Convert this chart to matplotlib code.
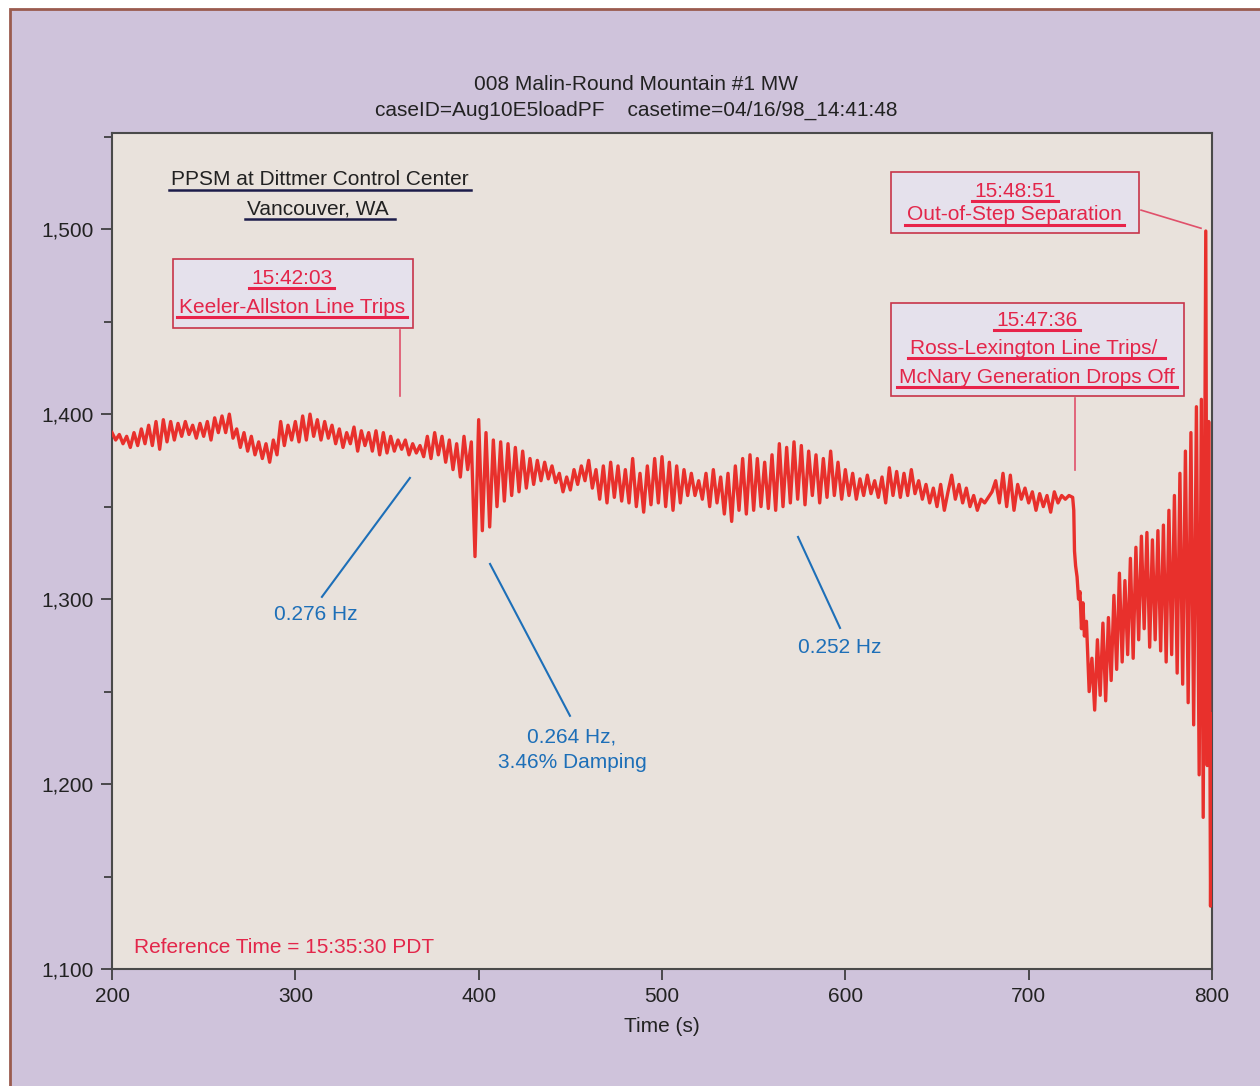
import numpy as np
import matplotlib.pyplot as plt
from matplotlib.lines import Line2D
from matplotlib.patches import Rectangle
from matplotlib.ticker import MultipleLocator, StrMethodFormatter
from matplotlib.transforms import IdentityTransform

plt.rcParams['font.family'] = ['Liberation Sans', 'DejaVu Sans']

# Malin-Round Mountain #1 MW, one reading every 2 s from 200 s to 722 s
t_pre = np.arange(200, 724, 2)
mw_pre = [
    1390, 1386, 1389, 1384, 1388, 1382, 1390, 1383, 1392, 1384,  # 200
    1394, 1383, 1396, 1381, 1397, 1385, 1396, 1386, 1395, 1388,  # 220
    1396, 1389, 1394, 1387, 1395, 1388, 1396, 1386, 1398, 1390,  # 240
    1399, 1390, 1400, 1387, 1392, 1382, 1390, 1380, 1388, 1378,  # 260
    1385, 1376, 1384, 1374, 1386, 1378, 1396, 1383, 1394, 1386,  # 280
    1396, 1385, 1399, 1386, 1400, 1388, 1397, 1386, 1396, 1387,  # 300
    1394, 1384, 1392, 1382, 1390, 1384, 1393, 1380, 1391, 1383,  # 320
    1390, 1380, 1391, 1378, 1390, 1379, 1388, 1380, 1386, 1381,  # 340
    1386, 1378, 1384, 1379, 1383, 1377, 1388, 1376, 1390, 1378,  # 360
    1388, 1374, 1386, 1370, 1384, 1366, 1388, 1370, 1385, 1323,  # 380
    1397, 1337, 1390, 1339, 1386, 1350, 1385, 1353, 1384, 1356,  # 400
    1382, 1358, 1380, 1360, 1376, 1362, 1375, 1364, 1374, 1365,  # 420
    1372, 1363, 1368, 1358, 1366, 1359, 1370, 1362, 1372, 1364,  # 440
    1375, 1360, 1370, 1354, 1372, 1352, 1374, 1355, 1372, 1353,  # 460
    1370, 1352, 1376, 1350, 1368, 1347, 1372, 1351, 1376, 1352,  # 480
    1377, 1350, 1374, 1348, 1372, 1352, 1370, 1356, 1368, 1356,  # 500
    1364, 1354, 1368, 1350, 1370, 1352, 1366, 1346, 1368, 1342,  # 520
    1372, 1348, 1376, 1346, 1378, 1348, 1376, 1350, 1374, 1349,  # 540
    1378, 1348, 1384, 1350, 1382, 1352, 1385, 1354, 1383, 1351,  # 560
    1380, 1356, 1378, 1352, 1376, 1355, 1380, 1356, 1374, 1354,  # 580
    1370, 1356, 1368, 1354, 1365, 1356, 1367, 1357, 1364, 1355,  # 600
    1366, 1352, 1371, 1356, 1369, 1355, 1368, 1356, 1370, 1357,  # 620
    1364, 1354, 1362, 1352, 1360, 1350, 1362, 1348, 1358, 1367,  # 640
    1354, 1362, 1352, 1360, 1350, 1356, 1348, 1354, 1352, 1355,  # 660
    1358, 1364, 1352, 1368, 1350, 1367, 1348, 1362, 1354, 1360,  # 680
    1352, 1358, 1348, 1357, 1350, 1356, 1347, 1358, 1352, 1356,  # 700
    1354, 1356,                                                  # 720
]

# after the Ross-Lexington trip (peaks and troughs)
t_post = [724.0, 724.6, 725.0, 725.6, 726.4, 727.2, 728.0, 728.8, 729.6, 730.4,
          731.5, 733.0, 734.5, 736.0, 737.5, 739.0, 740.5, 742.0, 743.5, 745.0,
          746.5, 748.0, 749.5, 751.0, 752.5, 754.0, 755.5, 757.0, 758.5, 760.0,
          761.5, 763.0, 764.5, 766.0, 767.5, 769.0, 770.5, 772.0, 773.5, 775.0,
          776.5, 778.0, 779.5, 781.0, 782.5, 784.0, 785.5, 787.0, 788.5, 790.0,
          791.5, 793.0, 794.2, 795.2, 796.6, 797.4, 798.2, 799.2, 799.8]
mw_post = [1355, 1348, 1326, 1318, 1312, 1300, 1304, 1284, 1298, 1280,
           1288, 1250, 1268, 1240, 1278, 1248, 1287, 1245, 1290, 1256,
           1302, 1262, 1314, 1266, 1310, 1270, 1322, 1268, 1328, 1278,
           1334, 1284, 1336, 1274, 1332, 1278, 1337, 1272, 1340, 1266,
           1348, 1270, 1356, 1260, 1368, 1254, 1380, 1244, 1390, 1232,
           1404, 1205, 1408, 1182, 1499, 1210, 1396, 1134, 1238]

x_ticks = [200, 300, 400, 500, 600, 700, 800]

RED = '#e3264a'
BLUE = '#1d6fb8'
INK = '#222222'

fig = plt.figure(figsize=(12.6, 10.86), dpi=100)
fig.patch.set_facecolor('white')
fig.add_artist(Rectangle((10 / 1260, -0.05), 1.1, 1.05 - 9 / 1086,
                         transform=fig.transFigure, facecolor='#cfc3db',
                         edgecolor='#9a5b4e', lw=2, zorder=-10))

ax = fig.add_axes([112 / 1260, 1 - 969 / 1086, 1100 / 1260, 836 / 1086])
ax.set_facecolor('#e9e2dc')

t_all = np.concatenate([t_pre, np.array(t_post)])
mw_all = np.array(mw_pre + mw_post)
ax.plot(t_all, mw_all, color='#e8302c', lw=2.4, zorder=3)

ax.set_xlim(200, 800)
ax.set_ylim(1100, 1552)
ax.set_xticks(x_ticks)
ax.yaxis.set_major_locator(MultipleLocator(100))
ax.yaxis.set_minor_locator(MultipleLocator(50))
ax.yaxis.set_major_formatter(StrMethodFormatter('{x:,.0f}'))
ax.tick_params(which='major', direction='out', length=8, width=1.2,
               color='#333333', labelsize=15, labelcolor=INK, pad=5)
ax.tick_params(axis='y', which='minor', direction='out', length=6,
               width=1.2, color='#333333')
for s in ax.spines.values():
    s.set_color('#4a4a4a')
    s.set_linewidth(1.5)
ax.set_xlabel('Time (s)', fontsize=15, color=INK, labelpad=8)

fig.text(0.505, 0.922, '008 Malin-Round Mountain #1 MW', ha='center',
         va='center', fontsize=15, color=INK)
fig.text(0.505, 0.8985, 'caseID=Aug10E5loadPF    casetime=04/16/98_14:41:48',
         ha='center', va='center', fontsize=15, color=INK)

underlined = []

# location label
for y, s in [(1526.6, 'PPSM at Dittmer Control Center'), (1510.9, 'Vancouver, WA ')]:
    tx = ax.text(313.5, y, s, ha='center', va='center', fontsize=15, color=INK)
    underlined.append((tx, '#1c1c4a', 1.8))

# event boxes
boxes = [
    (233.3, 1446.5, 130.9, 37.3, [(298.0, 1473.4, '15:42:03'),
                                  (298.0, 1457.7, 'Keeler-Allston Line Trips')]),
    (624.9, 1497.8, 135.3, 33.0, [(692.5, 1520.4, '15:48:51'),
                                  (692.5, 1507.9, 'Out-of-Step Separation')]),
    (624.9, 1409.8, 159.8, 50.2, [(704.5, 1450.7, '15:47:36'),
                                  (704.5, 1435.6, 'Ross-Lexington Line Trips/ '),
                                  (704.5, 1419.9, 'McNary Generation Drops Off')]),
]
for x0, y0, w, h, lines in boxes:
    ax.add_patch(Rectangle((x0, y0), w, h, facecolor='#e5e1ec',
                           edgecolor='#c8354a', lw=1.2, zorder=4))
    for x, y, s in lines:
        tx = ax.text(x, y, s, ha='center', va='center', fontsize=15,
                     color=RED, zorder=5)
        underlined.append((tx, '#e8234a', 2.2))

# connectors from boxes to the trace
ax.plot([357.1, 357.1], [1445.4, 1409.8], color='#e0506a', lw=1.2, zorder=4)
ax.plot([761.3, 794.0], [1510.3, 1500.5], color='#e0506a', lw=1.2, zorder=4)
ax.plot([725.3, 725.3], [1408.7, 1369.8], color='#e0506a', lw=1.2, zorder=4)

# mode annotations
ax.text(311.3, 1291.5, '0.276 Hz', ha='center', va='center', fontsize=15, color=BLUE)
ax.plot([314.5, 362.5], [1301.2, 1365.5], color=BLUE, lw=1.5)
ax.text(450.9, 1225.6, '0.264 Hz,', ha='center', va='center', fontsize=15, color=BLUE)
ax.text(450.9, 1211.6, '3.46% Damping', ha='center', va='center', fontsize=15, color=BLUE)
ax.plot([449.8, 406.2], [1236.9, 1319.0], color=BLUE, lw=1.5)
ax.text(597.1, 1273.7, '0.252 Hz', ha='center', va='center', fontsize=15, color=BLUE)
ax.plot([597.1, 574.2], [1284.4, 1333.6], color=BLUE, lw=1.5)

ax.text(212.0, 1111.6, 'Reference Time = 15:35:30 PDT', ha='left', va='center',
        fontsize=15, color=RED)

# underline texts using their drawn extents
fig.canvas.draw()
renderer = fig.canvas.get_renderer()
for tx, col, lw in underlined:
    bb = tx.get_window_extent(renderer)
    fig.add_artist(Line2D([bb.x0 - 2, bb.x1 + 2], [bb.y0 - 0.5] * 2,
                          transform=IdentityTransform(), color=col, lw=lw,
                          zorder=20))

fig.savefig('out.png', dpi=100, facecolor=fig.get_facecolor())
